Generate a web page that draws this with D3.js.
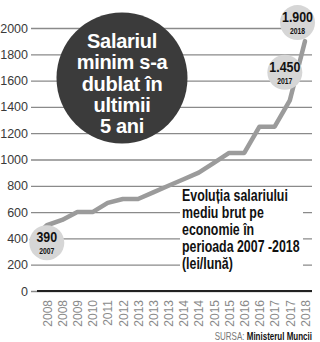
<!DOCTYPE html>
<html><head><meta charset="utf-8">
<script src="https://cdn.jsdelivr.net/npm/d3@7"></script>
<style>
html,body{margin:0;padding:0;background:#fff;}
svg{display:block;}
</style></head>
<body>
<svg id="c" width="320" height="342"></svg>
<script>
// ---- data ----
const years = ["2007","2008","2008","2009","2010","2011","2012","2013","2013","2013","2014","2014","2015","2015","2016","2016","2017","2017","2018"];
const wages = [390,500,540,600,600,670,700,700,750,800,850,900,975,1050,1050,1250,1250,1450,1900];
const yTicks = [0,200,400,600,800,1000,1200,1400,1600,1800,2000];
const highlighted = [0, 17, 18];
const headline = ["Salariul","minim s-a","dublat în","ultimii","5 ani"];
const subtitle = ["Evoluția salariului","mediu brut pe","economie în","perioada 2007 -2018","(lei/lună)"];

const svg = d3.select("#c");
const sans = "'Liberation Sans',Arial,sans-serif";
const x = d3.scalePoint().domain(d3.range(years.length)).range([31.8, 305]);
const y = d3.scaleLinear().domain([0, 2000]).range([291, 28]);
const roLocale = d3.formatLocale({decimal:",", thousands:".", grouping:[3], currency:["",""]});
const fmt = roLocale.format(",");

// grid + y labels
const gy = svg.append("g").attr("transform","translate(31,0)")
  .call(d3.axisLeft(y).tickValues(yTicks).tickSize(-281).tickPadding(3).tickFormat(d => d));
gy.select(".domain").remove();
gy.selectAll(".tick line").attr("stroke","#8a8a8a").attr("stroke-width",1.3);
gy.selectAll(".tick text").attr("fill","#3a3a3a")
  .style("font-family",sans).style("font-size","12.5px");

// zero baseline
svg.append("line").attr("x1",37).attr("x2",312).attr("y1",y(0)).attr("y2",y(0))
  .attr("stroke","#222").attr("stroke-width",2.2);

// x labels
const gx = svg.append("g").attr("transform",`translate(0,${y(0)})`)
  .call(d3.axisBottom(x).tickValues(d3.range(1, years.length)).tickSize(0).tickFormat(i => years[i]));
gx.select(".domain").remove();
gx.selectAll(".tick text")
  .attr("transform","rotate(-90)").attr("text-anchor","end")
  .attr("x",-9).attr("y",0).attr("dy","0.35em")
  .attr("fill","#8a8a8a")
  .style("font-family",sans).style("font-size","12px");

// dark headline circle
const hc = svg.append("g").attr("transform","translate(122,78)");
hc.append("circle").attr("r",65.5).attr("fill","#3b3b3b");
hc.append("text").attr("text-anchor","middle").attr("fill","#fff")
  .style("font-family",sans).style("font-weight","bold")
  .style("font-size","20px").style("letter-spacing","-0.3px")
  .selectAll("tspan").data(headline).join("tspan")
  .attr("x",0).attr("y",(d,i) => -30 + i*21.3).text(d => d);

// subtitle box
svg.append("rect").attr("x",180).attr("y",189).attr("width",123).attr("height",85).attr("fill","#fff");
svg.append("g").attr("transform","translate(182,0) scale(0.75,1)")
  .append("text").attr("fill","#111")
  .style("font-family",sans).style("font-weight","bold").style("font-size","16.5px")
  .selectAll("tspan").data(subtitle).join("tspan")
  .attr("x",0).attr("y",(d,i) => 201 + i*17).text(d => d);

// line
svg.append("path").datum(wages)
  .attr("d", d3.line().x((d,i) => x(i)).y(d => y(d)))
  .attr("fill","none").attr("stroke","#9b9b9b").attr("stroke-width",4.5)
  .attr("stroke-linejoin","round").attr("stroke-linecap","round");

// highlight bubbles
const offsets = {0:[15,3], 17:[-5,-28], 18:[-7.5,-18.6]};
const bub = svg.selectAll("g.bub").data(highlighted).join("g").attr("class","bub")
  .attr("transform", i => `translate(${x(i)+offsets[i][0]},${y(wages[i])+offsets[i][1]})`);
bub.append("circle").attr("r",17.5).attr("fill","#d6d6d6");
const bt = bub.append("g").attr("transform","scale(0.8,1)");
bt.append("text").attr("text-anchor","middle").attr("y",-0.5).attr("fill","#111")
  .style("font-family",sans).style("font-weight","bold").style("font-size","15.5px")
  .text(i => fmt(wages[i]));
bt.append("text").attr("text-anchor","middle").attr("y",11.5).attr("fill","#111")
  .style("font-family",sans).style("font-weight","bold").style("font-size","8.5px")
  .text(i => years[i]);

// source
const src = svg.append("g").attr("transform","translate(312,340) scale(0.8,1)")
  .append("text").attr("text-anchor","end")
  .style("font-family",sans).style("font-size","10px");
src.append("tspan").attr("fill","#777").text("SURSA: ");
src.append("tspan").attr("fill","#111").style("font-weight","bold").text("Ministerul Muncii");
</script>
</body></html>
